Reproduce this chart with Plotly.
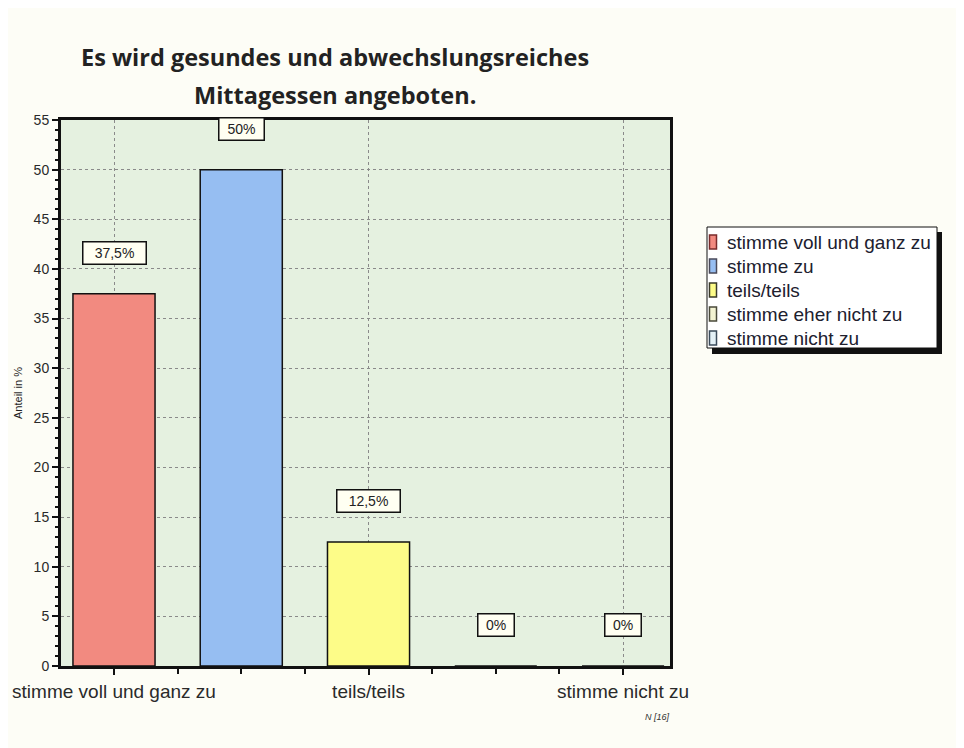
import plotly.graph_objects as go

# Daten
kategorien = ["stimme voll und ganz zu", "stimme zu", "teils/teils",
              "stimme eher nicht zu", "stimme nicht zu"]
anteile = [37.5, 50, 12.5, 0, 0]
beschriftungen = ["37,5%", "50%", "12,5%", "0%", "0%"]
farben = ["#f28a80", "#96bef2", "#fdfc88", "#f3f3d2", "#e3f0f6"]
rahmen_legende = ["#7a2b2b", "#4a4a5a", "#3a3a2a", "#4a4a3a", "#3a4a5a"]
x_ticks_text = ["stimme voll und ganz zu", "teils/teils", "stimme nicht zu"]
y_ticks = list(range(0, 56, 5))
titel_zeilen = ["Es wird gesundes und abwechslungsreiches", "Mittagessen angeboten."]
n_text = "N [16]"

# Plotbereich in Pixeln (Figur)
L, T, W, H = 53, 112, 609, 546


def px(x):
    return (x - L) / W


def py(y):
    return (T + H - y) / H


fig = go.Figure()

for i, (kat, wert, farbe) in enumerate(zip(kategorien, anteile, farben)):
    fig.add_trace(go.Bar(
        x=[i], y=[wert],
        name=kat,
        width=0.645,
        showlegend=False,
        marker=dict(color=farbe, line=dict(color="#111111", width=1.5)),
        hoverinfo="skip"
    ))
    txt = beschriftungen[i]
    fig.add_annotation(
        x=i, y=wert, text=txt,
        showarrow=False, yshift=41,
        xanchor="center", yanchor="middle",
        width=round(8.7 * len(txt) + 14), height=17,
        font=dict(family="Liberation Sans, Arial", size=14, color="#222222"),
        bgcolor="#fffff2", bordercolor="#111111", borderwidth=1.5, borderpad=2
    )

# Titel
for zeile, ypix in zip(titel_zeilen, [49.5, 87]):
    fig.add_annotation(
        xref="paper", yref="paper", x=px(327), y=py(ypix),
        xanchor="center", yanchor="middle", text="<b>" + zeile + "</b>",
        showarrow=False,
        font=dict(family="Open Sans", size=23.5, color="#222222")
    )

fig.add_annotation(
    xref="paper", yref="paper", x=px(649), y=py(709),
    xanchor="center", yanchor="middle",
    text="<i>" + n_text + "</i>", showarrow=False,
    font=dict(family="Liberation Sans Narrow, Liberation Sans", size=9, color="#333333")
)

# Legende (von Hand gezeichnet)
fig.add_shape(type="rect", xref="paper", yref="paper",
              x0=px(704), x1=px(934), y0=py(346), y1=py(224),
              fillcolor="#111111", line=dict(width=0), layer="above")
fig.add_shape(type="rect", xref="paper", yref="paper",
              x0=px(699), x1=px(929), y0=py(340), y1=py(219),
              fillcolor="#ffffff", line=dict(color="#111111", width=1), layer="above")
for k, (kat, farbe, rahmen) in enumerate(zip(kategorien, farben, rahmen_legende)):
    yc = 234 + k * 24
    fig.add_shape(type="rect", xref="paper", yref="paper",
                  x0=px(701.5), x1=px(708.5), y0=py(yc + 7), y1=py(yc - 7),
                  fillcolor=farbe, line=dict(color=rahmen, width=1.5), layer="above")
    fig.add_annotation(
        xref="paper", yref="paper", x=px(717), y=py(yc),
        xanchor="left", yanchor="middle", text=kat, showarrow=False,
        font=dict(family="Liberation Sans, Arial", size=19, color="#20202e")
    )

fig.update_layout(
    width=964, height=748,
    paper_bgcolor="#fdfdf6",
    plot_bgcolor="#e5f1e0",
    barmode="overlay",
    showlegend=False,
    margin=dict(l=L, r=964 - L - W, t=T, b=748 - T - H),
    xaxis=dict(
        range=[-0.4165, 4.369],
        automargin=False,
        tickmode="array", tickvals=[0, 2, 4], ticktext=x_ticks_text,
        ticks="outside", ticklen=6, tickcolor="#111111", tickwidth=1.5,
        tickfont=dict(family="Liberation Sans, Arial", size=19, color="#2a2a2a"),
        showgrid=True, gridcolor="#8a8a8a", griddash="3px,3px", gridwidth=1,
        showline=True, linecolor="#111111", linewidth=2.5, mirror=True,
        minor=dict(tickvals=[0.5, 1, 1.5, 2.5, 3, 3.5], ticks="outside", ticklen=5,
                   tickcolor="#111111", tickwidth=1.5, showgrid=False),
        zeroline=False
    ),
    yaxis=dict(
        range=[0, 55],
        automargin=False,
        tickvals=y_ticks,
        ticks="outside", ticklen=6, tickcolor="#111111", tickwidth=1.5,
        tickfont=dict(family="Liberation Sans, Arial", size=14, color="#2a2a2a"),
        showgrid=True, gridcolor="#8a8a8a", griddash="3px,3px", gridwidth=1,
        showline=True, linecolor="#111111", linewidth=3, mirror=True,
        minor=dict(dtick=1, ticks="outside", ticklen=3,
                   tickcolor="#111111", showgrid=False),
        zeroline=False,
        title=dict(text="Anteil in %", standoff=9,
                   font=dict(family="Liberation Sans, Arial", size=11, color="#222222"))
    ),
)

fig.write_html("out.html")
